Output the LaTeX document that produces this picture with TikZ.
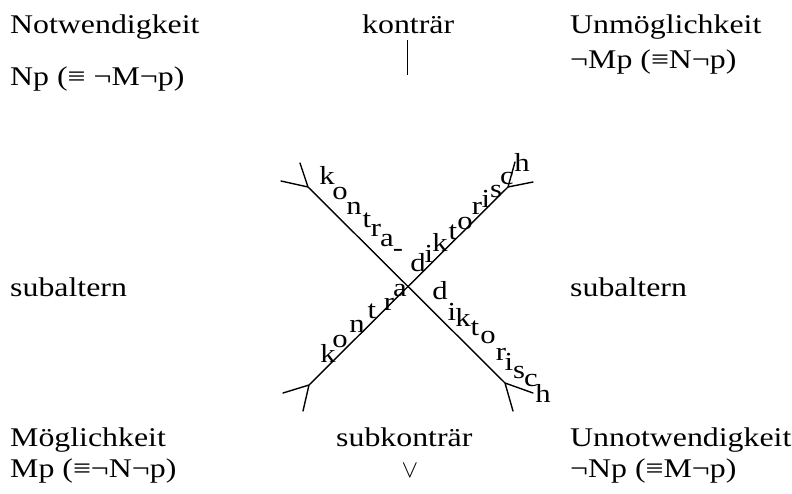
\documentclass[tikz,border=0pt]{standalone}
\usepackage{fontspec}
\setmainfont[FakeStretch=1.18]{Liberation Serif}
\begin{document}
\begin{tikzpicture}[x=1pt,y=-1pt,
  lbl/.style={font=\fontsize{27}{32}\selectfont, inner sep=0pt, anchor=base west},
  ltr/.style={font=\fontsize{26}{30}\selectfont, inner sep=0pt, anchor=base},
  axis/.style={line width=1.4pt, line cap=round},
  barb/.style={line width=1.4pt, line cap=round},
  tick/.style={line width=1pt}]
\useasboundingbox (0,0) rectangle (792,494);
% corner labels
\node[lbl] (nw) at (10,34) {Notwendigkeit};
\node[lbl] (nwf) at (10,86) {Np (≡ ¬M¬p)};
\node[lbl] (ko) at (362,34) {konträr};
\node[lbl] (ne) at (570,34) {Unmöglichkeit};
\node[lbl] (nef) at (570,69) {¬Mp (≡N¬p)};
\node[lbl] (sl) at (10,297) {subaltern};
\node[lbl] (sr) at (570,297) {subaltern};
\node[lbl] (sw) at (10,446) {Möglichkeit};
\node[lbl] (sk) at (336,446) {subkonträr};
\node[lbl] (se) at (570,446) {Unnotwendigkeit};
\node[lbl] (swf) at (10,477) {Mp (≡¬N¬p)};
\node[ltr] (vee) at (410,477) {$\vee$};
\node[lbl] (sef) at (570,477) {¬Np (≡M¬p)};
% small bar under konträr
\coordinate (bt) at (407,40);
\coordinate (bb) at (407,75);
\draw[tick] (bt) -- (bb);
% the X
\coordinate (ul) at (308,187);
\coordinate (ur) at (508,187);
\coordinate (ll) at (309,385);
\coordinate (lr) at (505,383);
\draw[axis] (ul) -- (lr);
\draw[axis] (ur) -- (ll);
% barbs
\coordinate (ul1) at (281,181); \coordinate (ul2) at (300,163);
\coordinate (ur1) at (533,182); \coordinate (ur2) at (515,162);
\coordinate (ll1) at (283,393); \coordinate (ll2) at (303,411);
\coordinate (lr1) at (533,393); \coordinate (lr2) at (513,411);
\draw[barb] (ul1) -- (ul) -- (ul2);
\draw[barb] (ur1) -- (ur) -- (ur2);
\draw[barb] (ll1) -- (ll) -- (ll2);
\draw[barb] (lr1) -- (lr) -- (lr2);
% kontra- (upper left)
\node[ltr] (a1) at (327,185) {k};
\node[ltr] (a2) at (340,200) {o};
\node[ltr] (a3) at (354,215) {n};
\node[ltr] (a4) at (367,228) {t};
\node[ltr] (a5) at (376,237) {r};
\node[ltr] (a6) at (387,247) {a};
\node[ltr] (a7) at (398,257) {-};
% diktorisch (upper right)
\node[ltr] (b1) at (418,272) {d};
\node[ltr] (b2) at (429,262) {i};
\node[ltr] (b3) at (440,252) {k};
\node[ltr] (b4) at (453,240) {t};
\node[ltr] (b5) at (465,230) {o};
\node[ltr] (b6) at (477,215) {r};
\node[ltr] (b7) at (486,208) {i};
\node[ltr] (b8) at (496,198) {s};
\node[ltr] (b9) at (507,185) {c};
\node[ltr] (b10) at (522,172) {h};
% kontra (lower left)
\node[ltr] (c1) at (328,362) {k};
\node[ltr] (c2) at (340,347) {o};
\node[ltr] (c3) at (357,332) {n};
\node[ltr] (c4) at (372,318) {t};
\node[ltr] (c5) at (389,310) {r};
\node[ltr] (c6) at (400,297) {a};
% diktorisch (lower right)
\node[ltr] (d1) at (440,299) {d};
\node[ltr] (d2) at (452,320) {i};
\node[ltr] (d3) at (463,326) {k};
\node[ltr] (d4) at (475,335) {t};
\node[ltr] (d5) at (488,343) {o};
\node[ltr] (d6) at (501,360) {r};
\node[ltr] (d7) at (509,370) {i};
\node[ltr] (d8) at (519,378) {s};
\node[ltr] (d9) at (531,386) {c};
\node[ltr] (d10) at (543,402) {h};
\end{tikzpicture}
\end{document}
